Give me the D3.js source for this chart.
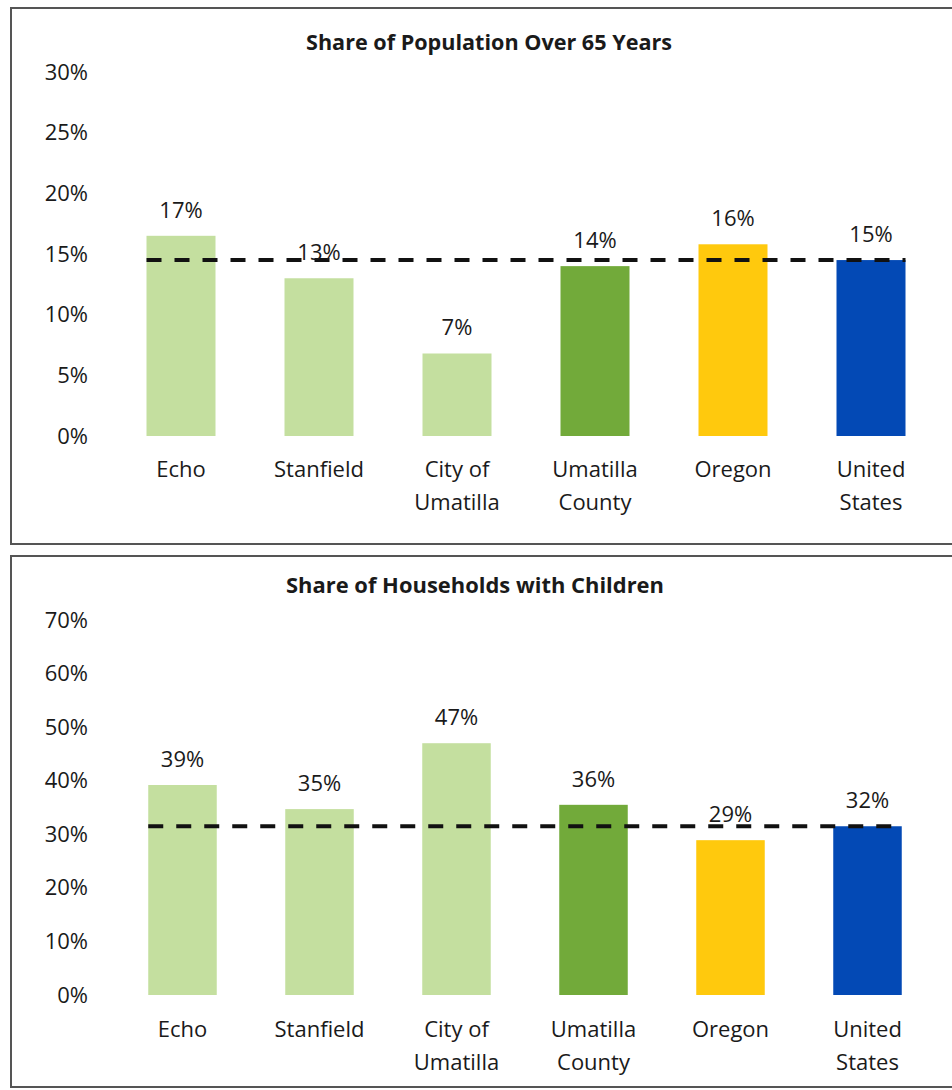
<!DOCTYPE html>
<html>
<head>
<meta charset="utf-8">
<script src="https://cdn.jsdelivr.net/npm/d3@7"></script>
<style>
  html, body { margin: 0; padding: 0; background: #fff; }
  svg { display: block; }
  text { font-family: "Open Sans", Lato, sans-serif; fill: #1a1a1a; }
</style>
</head>
<body>
<svg id="chart" width="952" height="1090"></svg>
<script>
// ---- data ----
const categories = ["Echo", "Stanfield", "City of\nUmatilla", "Umatilla\nCounty", "Oregon", "United\nStates"];
const over65Values = [16.5, 13.0, 6.8, 14.0, 15.8, 14.5];
const over65Reference = 14.5;   // United States level (dashed line)
const over65Ticks = [0, 5, 10, 15, 20, 25, 30];
const childrenValues = [39.2, 34.7, 47.0, 35.5, 28.9, 31.5];
const childrenReference = 31.5; // United States level (dashed line)
const childrenTicks = [0, 10, 20, 30, 40, 50, 60, 70];
const barColors = ["#c4df9f", "#c4df9f", "#c4df9f", "#72aa3a", "#ffc90d", "#0349b5"];
const titles = ["Share of Population Over 65 Years", "Share of Households with Children"];

const svg = d3.select("#chart");
const FONT = "'Open Sans', Lato, sans-serif";

const panels = [
  { title: titles[0], values: over65Values, ref: over65Reference, ticks: over65Ticks,
    box: [11, 8, 960, 544], titleX: 489, titleY: 44, titleW: 366,
    y: [436, 72], x: [112, 940], catY: 471 },
  { title: titles[1], values: childrenValues, ref: childrenReference, ticks: childrenTicks,
    box: [11, 556, 960, 1087], titleX: 475, titleY: 587, titleW: 378,
    y: [995, 620], x: [114, 936], catY: 1031 }
];

panels.forEach(p => {
  const g = svg.append("g");
  // frame
  g.append("rect")
    .attr("x", p.box[0]).attr("y", p.box[1])
    .attr("width", p.box[2] - p.box[0]).attr("height", p.box[3] - p.box[1])
    .attr("fill", "#fff").attr("stroke", "#555").attr("stroke-width", 2);

  const y = d3.scaleLinear().domain([0, d3.max(p.ticks)]).range(p.y);
  const x = d3.scaleBand().domain(categories).range(p.x).paddingInner(0.5).paddingOuter(0.25);

  // title
  g.append("text")
    .attr("x", p.titleX).attr("y", p.titleY)
    .attr("text-anchor", "middle").attr("dominant-baseline", "middle")
    .attr("textLength", p.titleW).attr("lengthAdjust", "spacingAndGlyphs")
    .style("font-weight", "bold").style("font-size", "21px")
    .text(p.title);

  // y axis labels
  const yAxis = g.append("g")
    .attr("transform", "translate(88,0)")
    .call(d3.axisLeft(y).tickValues(p.ticks).tickSize(0).tickPadding(0).tickFormat(d => d + "%"));
  yAxis.select(".domain").remove();
  yAxis.selectAll("text").style("font-size", "22px").attr("fill", "#1a1a1a")
    .style("font-family", FONT);

  // bars
  g.selectAll("rect.bar").data(p.values).join("rect")
    .attr("class", "bar")
    .attr("x", (d, i) => x(categories[i]))
    .attr("width", x.bandwidth())
    .attr("y", d => y(d))
    .attr("height", d => y(0) - y(d))
    .attr("fill", (d, i) => barColors[i]);

  // reference dashed line
  g.append("line")
    .attr("x1", x(categories[0]))
    .attr("x2", x(categories[categories.length - 1]) + x.bandwidth())
    .attr("y1", y(p.ref)).attr("y2", y(p.ref))
    .attr("stroke", "#111").attr("stroke-width", 4)
    .attr("stroke-dasharray", "15,13");

  // value labels
  g.selectAll("text.val").data(p.values).join("text")
    .attr("class", "val")
    .attr("x", (d, i) => x(categories[i]) + x.bandwidth() / 2)
    .attr("y", d => y(d) - 24)
    .attr("text-anchor", "middle").attr("dominant-baseline", "middle")
    .style("font-size", "22px")
    .text(d => Math.round(d) + "%");

  // category labels
  const xAxis = g.append("g")
    .attr("transform", `translate(0,${p.catY})`)
    .call(d3.axisBottom(x).tickSize(0).tickPadding(0).tickFormat(""));
  xAxis.select(".domain").remove();
  xAxis.selectAll(".tick").each(function (d) {
    const t = d3.select(this).append("text")
      .attr("text-anchor", "middle")
      .style("font-size", "22px")
      .style("font-family", FONT)
      .attr("fill", "#1a1a1a");
    d.split("\n").forEach((line, i) => {
      t.append("tspan").attr("x", 0).attr("y", i * 33)
        .attr("dominant-baseline", "middle").text(line);
    });
  });
});
</script>
</body>
</html>
